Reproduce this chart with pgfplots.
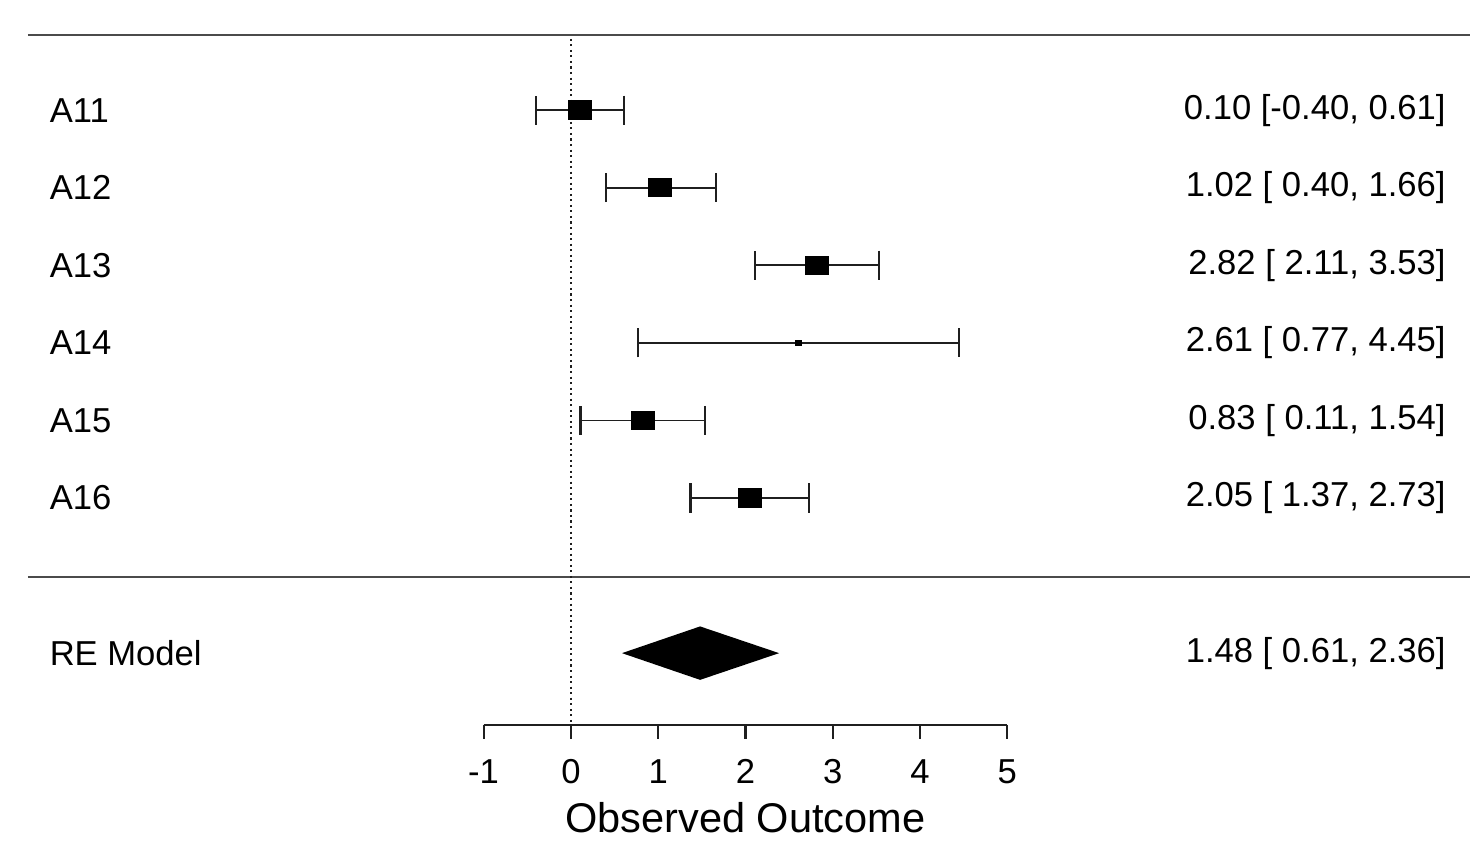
\documentclass[border=0pt]{standalone}
\usepackage{fontspec}
\setmainfont{Liberation Sans}
\usepackage{pgfplots}
\usepackage{pgfplotstable}
\pgfplotsset{compat=1.18}

\definecolor{ink}{gray}{0.12}

% study rows: y position, estimate, lower, upper
\pgfplotstableread{
y est lo hi
6 0.10 -0.40 0.61
5 1.02 0.40 1.66
4 2.82 2.11 3.53
3 2.61 0.77 4.45
2 0.83 0.11 1.54
1 2.05 1.37 2.73
}\studies

\begin{document}
\begin{tikzpicture}
\begin{axis}[
  width=15cm, height=8.571cm, scale only axis,
  xmin=-6.54, xmax=10.38, ymin=-3.46, ymax=7.42,
  hide axis, clip=false,
  every node/.style={font=\fontsize{10}{12}\selectfont, text=ink},
]
% keep the page the size of the axis
\addplot[draw=none] coordinates {(-6.54,-3.46) (10.38,7.42)};

% horizontal rules
\addplot[ink!80, line width=0.6pt] coordinates {(-6.22,6.97) (10.30,6.97)};
\addplot[ink!80, line width=0.6pt] coordinates {(-6.22,-0.02) (10.30,-0.02)};

% reference line at 0
\addplot[ink, densely dotted, line width=0.6pt] coordinates {(0,6.92) (0,-1.925)};

% confidence intervals
\addplot[draw=none, mark=none,
  error bars/.cd, x dir=both, x explicit,
  error mark=|, error mark options={mark size=4.2pt, line width=0.6pt, draw=ink},
  error bar style={line width=0.5pt, draw=ink}]
  table[x=est, y=y,
        x error plus expr=\thisrow{hi}-\thisrow{est},
        x error minus expr=\thisrow{est}-\thisrow{lo}] {\studies};

% point estimates
\addplot[only marks, mark=square*, mark size=2.6pt, black,
  mark options={xscale=1.25}]
  coordinates {(0.10,6) (1.02,5) (2.82,4) (0.83,2) (2.05,1)};
\addplot[only marks, mark=square*, mark size=0.6pt, black,
  mark options={draw=none, xscale=1.4}]
  coordinates {(2.61,3)};

% summary diamond
\addplot[fill=black, draw=black] coordinates
  {(0.61,-1) (1.48,-0.665) (2.36,-1) (1.48,-1.335)} -- cycle;

% x axis
\addplot[ink, line width=0.6pt] coordinates {(-1,-1.925) (5,-1.925)};
\pgfplotsinvokeforeach{-1,0,1,2,3,4,5}{
  \addplot[ink, line width=0.6pt] coordinates {(#1,-1.925) (#1,-2.11)};
  \node at (axis cs:#1,-2.53) {#1};
}
\node[font=\fontsize{12}{14}\selectfont] at (axis cs:2,-3.12) {Observed Outcome};

% left labels
\node[anchor=west] at (axis cs:-6.11,6) {A11};
\node[anchor=west] at (axis cs:-6.11,5) {A12};
\node[anchor=west] at (axis cs:-6.11,4) {A13};
\node[anchor=west] at (axis cs:-6.11,3) {A14};
\node[anchor=west] at (axis cs:-6.11,2) {A15};
\node[anchor=west] at (axis cs:-6.11,1) {A16};
\node[anchor=west] at (axis cs:-6.11,-1) {RE Model};

% right labels
\node[anchor=east] at (axis cs:10.16,6) {0.10 [-0.40, 0.61]};
\node[anchor=east] at (axis cs:10.16,5) {1.02 [ 0.40, 1.66]};
\node[anchor=east] at (axis cs:10.16,4) {2.82 [ 2.11, 3.53]};
\node[anchor=east] at (axis cs:10.16,3) {2.61 [ 0.77, 4.45]};
\node[anchor=east] at (axis cs:10.16,2) {0.83 [ 0.11, 1.54]};
\node[anchor=east] at (axis cs:10.16,1) {2.05 [ 1.37, 2.73]};
\node[anchor=east] at (axis cs:10.16,-1) {1.48 [ 0.61, 2.36]};
\end{axis}
\end{tikzpicture}
\end{document}
